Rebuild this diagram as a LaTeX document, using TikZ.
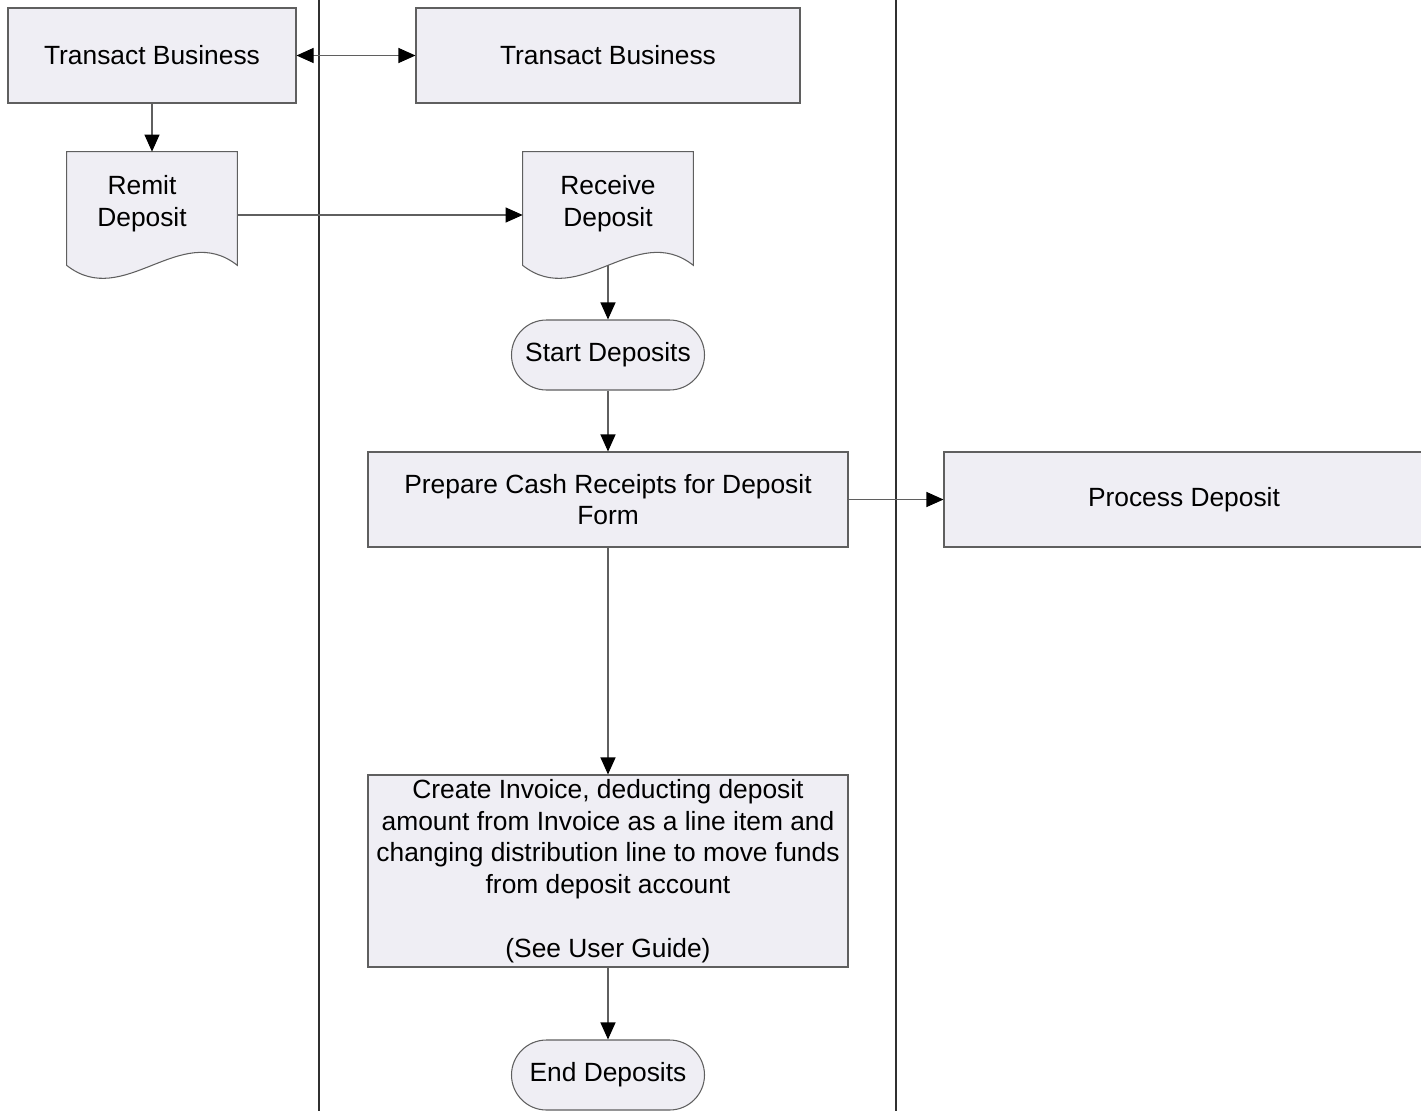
\documentclass[tikz,border=0pt]{standalone}
\usepackage{fontspec}
\setmainfont{Liberation Sans}
\usepackage{tikz}
\usetikzlibrary{positioning,arrows.meta,backgrounds,calc}
\definecolor{boxfill}{HTML}{EFEEF4}
\definecolor{boxline}{HTML}{5F5F5F}
\definecolor{lane}{HTML}{303030}

\begin{document}
\begin{tikzpicture}[
    box/.style = {rectangle, fill=boxfill, draw=boxline, line width=0.6pt, inner sep=0pt, align=center, minimum height=1.9cm},
    doc/.style = {rectangle, inner sep=0pt, align=center, minimum width=3.4cm, minimum height=1.96cm},
    term/.style = {rectangle, rounded corners=0.7cm, fill=boxfill, draw=boxline, line width=0.6pt, inner sep=0pt, minimum width=3.86cm, minimum height=1.4cm},
    flow/.style = {draw=boxline, line width=0.6pt, -{Triangle[length=0.34cm, width=0.3cm, color=black]}},
    both/.style = {draw=boxline, line width=0.6pt, {Triangle[length=0.34cm, width=0.3cm, color=black]}-{Triangle[length=0.34cm, width=0.3cm, color=black]}},
    font=\fontsize{15}{18.1}\selectfont
]
    \useasboundingbox (0,0) rectangle (28.42,-22.22);

    % swim lanes
    \coordinate (laneA top) at (6.38,0);
    \coordinate (laneA bot) at (6.38,-22.22);
    \coordinate (laneB top) at (17.92,0);
    \coordinate (laneB bot) at (17.92,-22.22);
    \draw[lane, line width=0.9pt] (laneA top) -- (laneA bot);
    \draw[lane, line width=0.9pt] (laneB top) -- (laneB bot);

    % boxes
    \node[box, minimum width=5.76cm] (tbleft) at (3.04,-1.11) {Transact Business};
    \node[box, minimum width=7.68cm] (tbmid) at (12.16,-1.11) {Transact Business};
    \node[doc] (remit) at (3.04,-4.02) {};
    \node[doc] (receive) at (12.16,-4.02) {};
    \node[align=center] (remit text) at ([shift={(-0.2,-0.06)}]remit.center) {Remit\\Deposit};
    \node[align=center] (receive text) at ([yshift=-0.06cm]receive.center) {Receive\\Deposit};
    \node[term] (start) at (12.16,-7.10) {Start Deposits};
    \node[box, minimum width=9.6cm] (prepare) at (12.16,-9.99) {Prepare Cash Receipts for Deposit\\Form};
    \node[box, minimum width=9.6cm] (process) at (23.68,-9.99) {Process Deposit};
    \node[box, minimum width=9.6cm, minimum height=3.84cm] (invoice) at (12.16,-17.42)
        {Create Invoice, deducting deposit\\amount from Invoice as a line item and\\changing distribution line to move funds\\from deposit account\\[18.1pt](See User Guide)};
    \node[term] (end) at (12.16,-21.5) {End Deposits};

    % document outlines
    \begin{scope}[on background layer]
        \foreach \n in {remit,receive} {
            \draw[fill=boxfill, draw=boxline, line width=0.6pt]
                (\n.north west) -- (\n.north east) -- ($(\n.south east)+(0,-0.3)$)
                .. controls ($(\n.south east)+(-1.14,0.6)$) and ($(\n.south west)+(1.14,-1.2)$) ..
                ($(\n.south west)+(0,-0.3)$) -- cycle;
        }
    \end{scope}

    % connectors
    \draw[both] (tbleft.east) -- (tbmid.west);
    \draw[flow] (tbleft.south) -- (remit.north);
    \draw[flow] ([yshift=-0.28cm]remit.east) -- ([yshift=-0.28cm]receive.west);
    \draw[flow] ([yshift=-0.3cm]receive.south) -- (start.north);
    \draw[flow] (start.south) -- (prepare.north);
    \draw[flow] (prepare.east) -- (process.west);
    \draw[flow] (prepare.south) -- (invoice.north);
    \draw[flow] (invoice.south) -- (end.north);

\end{tikzpicture}
\end{document}
